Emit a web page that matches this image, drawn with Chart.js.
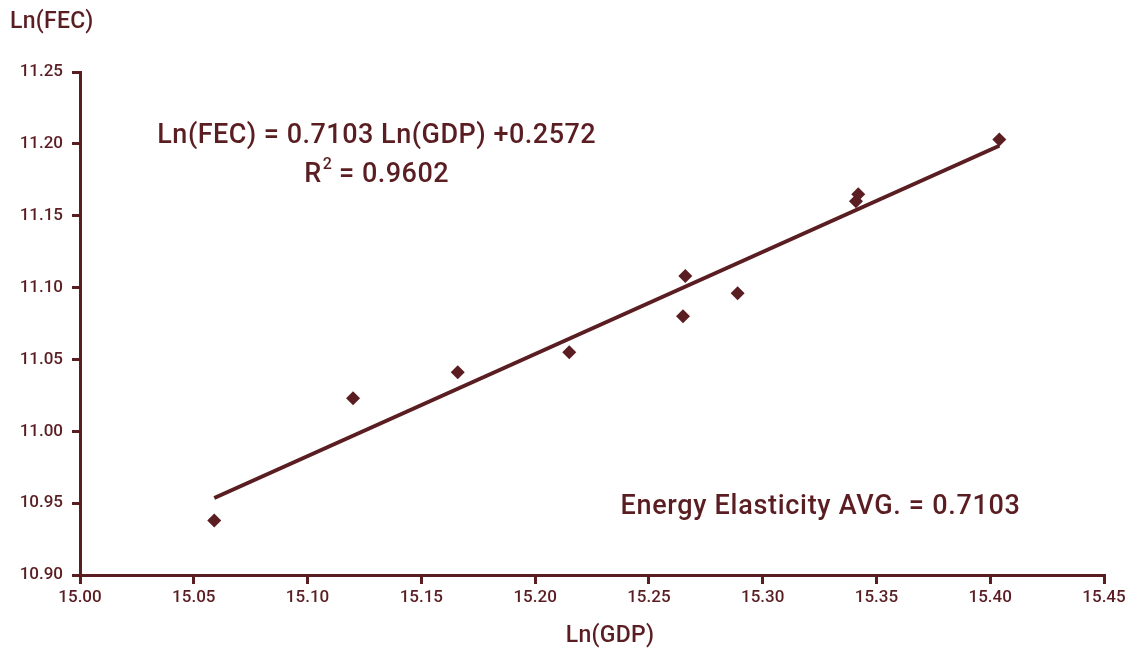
<!DOCTYPE html>
<html>
<head>
<meta charset="utf-8">
<script src="https://cdn.jsdelivr.net/npm/chart.js@4"></script>
<style>
  html, body { margin: 0; padding: 0; background: #fff; }
  #wrap { width: 1139px; height: 653px; }
</style>
</head>
<body>
<div id="wrap"><canvas id="grafico"></canvas></div>
<script>
// Ln(GDP) / Ln(FEC) observations
var lnGDP = [15.059, 15.120, 15.166, 15.215, 15.265, 15.266, 15.289, 15.341, 15.342, 15.404];
var lnFEC = [10.938, 11.023, 11.041, 11.055, 11.080, 11.108, 11.096, 11.160, 11.165, 11.203];
var slope = 0.7103;
var intercept = 0.2572;
var xTicks = [15.00, 15.05, 15.10, 15.15, 15.20, 15.25, 15.30, 15.35, 15.40, 15.45];
var yTicks = [10.90, 10.95, 11.00, 11.05, 11.10, 11.15, 11.20, 11.25];

var cor = '#5a1e22';
var fonte = 'Roboto, "DejaVu Sans", sans-serif';

var pontos = [];
for (var i = 0; i < lnGDP.length; i++) {
    pontos.push({ x: lnGDP[i], y: lnFEC[i] });
}
var xMin = Math.min.apply(null, lnGDP);
var xMax = Math.max.apply(null, lnGDP);
var tendencia = [
    { x: xMin, y: slope * xMin + intercept },
    { x: xMax, y: slope * xMax + intercept }
];

// textos sobre o grafico
var textos = {
    id: 'textos',
    afterDraw: function (chart) {
        var ctx = chart.ctx;
        var xs = chart.scales.x, ys = chart.scales.y;
        ctx.save();
        ctx.fillStyle = cor;
        ctx.textBaseline = 'middle';
        ctx.letterSpacing = '0.3px';
        ctx.font = '500 23px ' + fonte;
        ctx.textAlign = 'left';
        ctx.fillText('Ln(FEC)', 10, 22);
        ctx.textAlign = 'center';
        ctx.fillText('Ln(GDP)', 610, 636);

        ctx.letterSpacing = '0.5px';
        ctx.font = '500 27px ' + fonte;
        var cx = xs.getPixelForValue(15.1304);
        ctx.fillText('Ln(FEC) = 0.7103 Ln(GDP) +0.2572', cx, ys.getPixelForValue(11.2055));
        var r1 = 'R', r2 = ' = 0.9602';
        var w1 = ctx.measureText(r1).width, w2 = ctx.measureText(r2).width;
        var ry = ys.getPixelForValue(11.1785);
        ctx.textAlign = 'left';
        var sx = cx - (w1 + w2 + 10) / 2;
        ctx.fillText(r1, sx, ry);
        ctx.font = '500 16px ' + fonte;
        ctx.fillText('2', sx + w1 + 1, ry - 10);
        ctx.font = '500 27px ' + fonte;
        ctx.fillText(r2, sx + w1 + 10, ry);

        ctx.letterSpacing = '0.7px';
        ctx.fillText('Energy Elasticity AVG. = 0.7103', xs.getPixelForValue(15.2375), ys.getPixelForValue(10.9470));
        ctx.restore();
    }
};

var ctx = document.getElementById('grafico');
var myChart = new Chart(ctx, {
    type: 'scatter',
    data: {
        datasets: [{
                label: 'Ln(FEC)',
                data: pontos,
                pointStyle: 'rectRot',
                pointRadius: 7,
                backgroundColor: cor,
                borderColor: cor,
                borderWidth: 0,
                order: 1
            }, {
                label: 'Tendência',
                type: 'line',
                data: tendencia,
                borderColor: cor,
                borderWidth: 4,
                pointRadius: 0,
                fill: false,
                order: 2
            }]
    },
    options: {
        responsive: true,
        maintainAspectRatio: false,
        animation: false,
        layout: { padding: { top: 72, right: 35, left: 0, bottom: 0 } },
        plugins: {
            legend: { display: false },
            tooltip: { enabled: false }
        },
        scales: {
            x: {
                type: 'linear',
                min: 15.00,
                max: 15.45,
                afterBuildTicks: function (s) { s.ticks = xTicks.map(function (v) { return { value: v }; }); },
                afterFit: function (s) { s.height = 78; },
                ticks: {
                    color: cor,
                    font: { family: fonte, size: 17, weight: '500' },
                    padding: 4,
                    maxRotation: 0,
                    callback: function (v) { return Number(v).toFixed(2); }
                },
                grid: { drawOnChartArea: false, drawTicks: true, tickLength: 9, color: cor, lineWidth: 3 },
                border: { display: true, color: cor, width: 3 }
            },
            y: {
                type: 'linear',
                min: 10.90,
                max: 11.25,
                afterBuildTicks: function (s) { s.ticks = yTicks.map(function (v) { return { value: v }; }); },
                afterFit: function (s) { s.width = 80; },
                ticks: {
                    color: cor,
                    font: { family: fonte, size: 17, weight: '500' },
                    padding: 9,
                    callback: function (v) { return Number(v).toFixed(2); }
                },
                grid: { drawOnChartArea: false, drawTicks: true, tickLength: 8, color: cor, lineWidth: 3 },
                border: { display: true, color: cor, width: 3 }
            }
        }
    },
    plugins: [textos]
});
</script>
</body>
</html>
